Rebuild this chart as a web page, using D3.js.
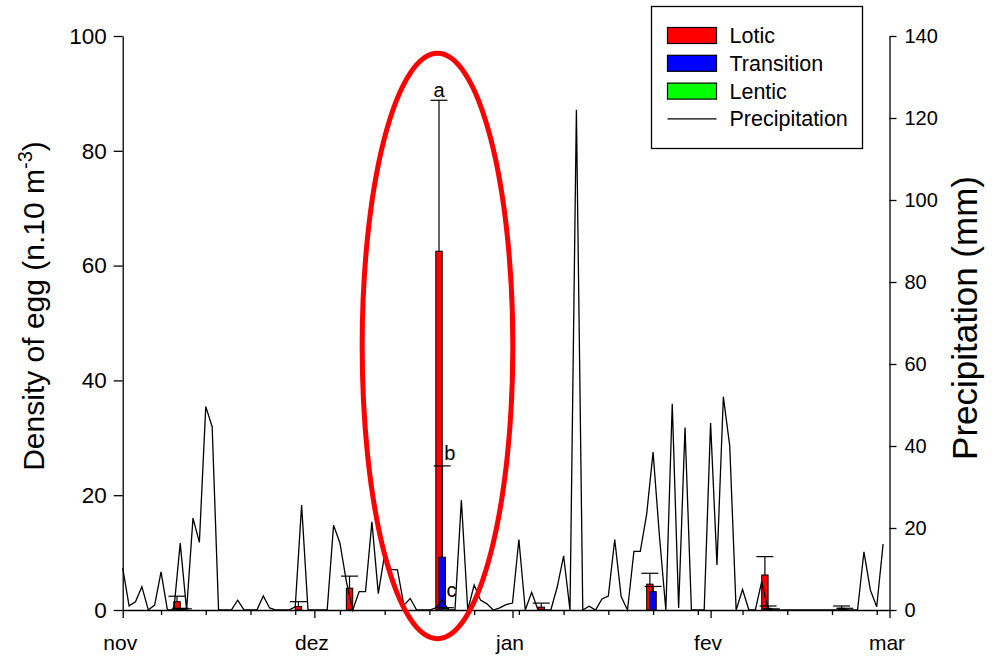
<!DOCTYPE html>
<html>
<head>
<meta charset="utf-8">
<script src="https://cdn.jsdelivr.net/npm/d3@7"></script>
<style>
body { margin: 0; background: #fff; }
svg { font-family: Arial, "Liberation Sans", sans-serif; }
</style>
</head>
<body>
<svg id="chart" width="1004" height="663"></svg>
<script>
// x range and month labels (Portuguese)
var startDay = "2010-11-01";
var endDay = "2011-03-01";
var monthLabels = ["nov", "dez", "jan", "fev", "mar"];

// daily precipitation (mm), one value per day from startDay
var precip = [
    10.2, 1, 2, 5.7, 0, 1.2, 9.3, 0, 0, 16.3,
    0, 22.4, 16.5, 49.6, 44.7, 0, 0, 0, 2.4, 0,
    0, 0, 3.4, 0.5, 0, 0, 0, 0.8, 25.6, 0,
    0, 0, 0, 20.7, 16.3, 7, 0, 4.5, 4.5, 21.5,
    4, 13.7, 9.9, 9.8, 1.2, 2.8, 0, 0, 0, 0.5,
    2.5, 0, 0, 26.8, 0, 6.1, 2.4, 1.5, 0, 0.5,
    1.3, 1.7, 17.2, 0, 4.3, 0, 0, 0, 5.6, 13.2,
    0, 122, 0, 0.9, 0, 2.7, 3.4, 17.2, 3.3, 0,
    14.3, 14.3, 23.4, 38.5, 18, 0, 50.3, 0.5, 44.5, 0,
    0, 0, 45.6, 11, 52, 40, 0, 5, 0, 0,
    6.9, 0, 0, 0, 0, 0, 0, 0, 0, 0,
    0, 0, 0, 0, 0, 0, 14.2, 4.9, 0.8, 16.1
];

// egg sampling dates and densities (n.10 m-3), with upper error
var sampleDates = ["2010-11-10", "2010-11-29", "2010-12-07", "2010-12-21",
                   "2011-01-06", "2011-01-23", "2011-02-10", "2011-02-22"];
var lotic          = [1.45, 0.6, 3.8, 62.5, 0.5, 4.5, 6.1, 0.3];
var loticErr       = [0.95, 0.85, 2.1, 26.3, 0.7, 1.9, 3.2, 0.4];
var transition     = [0.1, 0, 0, 9.2, 0, 3.2, 0.3, 0.1];
var transitionErr  = [0.2, 0, 0, 15.9, 0, 0.9, 0.4, 0.2];
var lentic         = [0.1, 0, 0, 0.25, 0, 0, 0.1, 0];
var lenticErr      = [0.1, 0, 0, 0.15, 0, 0, 0.1, 0];

// significance letters on the 4th sampling date
var letters = ["a", "b", "c"];
var letterIndex = 3;

var densityTicks = [0, 20, 40, 60, 80, 100];
var precipTicks = [0, 20, 40, 60, 80, 100, 120, 140];

var parse = d3.utcParse("%Y-%m-%d");
var svg = d3.select("#chart");
var W = 1004, H = 663;
var padding = {top: 36, right: 114.5, bottom: 53, left: 122.7};

var x = d3.scaleUtc()
    .domain([parse(startDay), parse(endDay)])
    .range([padding.left, W - padding.right]);
var yL = d3.scaleLinear().domain([0, 100]).range([H - padding.bottom, padding.top]);
var yR = d3.scaleLinear().domain([0, 140]).range([H - padding.bottom, padding.top]);

var series = [
    {name: "Lotic", values: lotic, err: loticErr, color: "#ff0000", shift: -12},
    {name: "Transition", values: transition, err: transitionErr, color: "#0000ff", shift: 0},
    {name: "Lentic", values: lentic, err: lenticErr, color: "#00ff00", shift: 12}
];

function center(d, s) {
    return x(d3.utcHour.offset(parse(d), s.shift));
}

// bars
series.forEach(function(s) {
    svg.append('g').selectAll('rect').data(sampleDates).enter()
        .append('rect')
        .attr('x', function(d) { return x(d3.utcHour.offset(parse(d), s.shift - 12)); })
        .attr('width', function(d) {
            return x(d3.utcHour.offset(parse(d), s.shift + 12)) - x(d3.utcHour.offset(parse(d), s.shift - 12));
        })
        .attr('y', function(d, i) { return yL(s.values[i]); })
        .attr('height', function(d, i) { return yL(0) - yL(s.values[i]); })
        .attr('fill', s.color)
        .attr('stroke', '#000')
        .attr('stroke-width', 1);
});

// error bars (upper only)
var capHalf = 8.5;
series.forEach(function(s) {
    var g = svg.append('g').attr('stroke', '#000').attr('stroke-width', 1.2);
    sampleDates.forEach(function(d, i) {
        if (!(s.err[i] > 0)) return;
        var cx = center(d, s);
        var top = yL(s.values[i] + s.err[i]);
        g.append('line').attr('x1', cx).attr('x2', cx)
            .attr('y1', yL(s.values[i])).attr('y2', top);
        g.append('line').attr('x1', cx - capHalf).attr('x2', cx + capHalf)
            .attr('y1', top).attr('y2', top);
    });
});

// precipitation line
var start = parse(startDay);
var line = d3.line()
    .x(function(d, i) { return x(d3.utcDay.offset(start, i)); })
    .y(function(d) { return yR(d); });
svg.append('path').datum(precip)
    .attr('d', line)
    .attr('fill', 'none')
    .attr('stroke', '#000')
    .attr('stroke-width', 1.3)
    .attr('stroke-linejoin', 'miter');

// letters
var ld = sampleDates[letterIndex];
svg.append('text')
    .attr('x', center(ld, series[0]))
    .attr('y', yL(lotic[letterIndex] + loticErr[letterIndex]) - 3)
    .attr('text-anchor', 'middle')
    .style('font-size', '20px')
    .text(letters[0]);
svg.append('text')
    .attr('x', center(ld, series[1]) + 2)
    .attr('y', yL(transition[letterIndex] + transitionErr[letterIndex]) - 6)
    .style('font-size', '20px')
    .text(letters[1]);
svg.append('text')
    .attr('x', center(ld, series[2]) + 1)
    .attr('y', yL(lentic[letterIndex] + lenticErr[letterIndex]) - 11)
    .style('font-size', '20px')
    .text(letters[2]);

// axes
var end = parse(endDay);
var monthTicks = d3.utcMonth.range(start, d3.utcDay.offset(end, 1));
var weekTicks = d3.utcSunday.range(start, end);

var xMinor = svg.append('g')
    .attr('transform', 'translate(0,' + yL(0) + ')')
    .call(d3.axisBottom(x).tickValues(weekTicks).tickSize(5).tickFormat(''));
xMinor.select('.domain').remove();

var xAxis = svg.append('g')
    .attr('transform', 'translate(0,' + yL(0) + ')')
    .call(d3.axisBottom(x).tickValues(monthTicks).tickSize(8).tickSizeOuter(0)
        .tickFormat(function(d, i) { return monthLabels[i]; }));
xAxis.selectAll('text').attr('y', 40).attr('dy', 0).attr('dx', -3)
    .style('font-size', '21px').attr('fill', '#000');

var yAxis = svg.append('g')
    .attr('transform', 'translate(' + padding.left + ',0)')
    .call(d3.axisLeft(yL).tickValues(densityTicks).tickSize(9).tickPadding(7).tickSizeOuter(0));
yAxis.selectAll('text').style('font-size', '22.5px').attr('fill', '#000');

var yAxisR = svg.append('g')
    .attr('transform', 'translate(' + (W - padding.right) + ',0)')
    .call(d3.axisRight(yR).tickValues(precipTicks).tickSize(7).tickPadding(8).tickSizeOuter(0));
yAxisR.selectAll('text').style('font-size', '20px').attr('fill', '#000');

svg.selectAll('.domain, .tick line').attr('stroke', '#000').attr('stroke-width', 1.3);

// axis titles
var leftTitle = svg.append('text')
    .attr('transform', 'translate(44,306) rotate(-90)')
    .attr('text-anchor', 'middle')
    .style('font-size', '30px');
leftTitle.append('tspan').text('Density of egg (n.10 m');
leftTitle.append('tspan').attr('dy', -12).style('font-size', '20px').text('-3');
leftTitle.append('tspan').attr('dy', 12).text(')');

svg.append('text')
    .attr('transform', 'translate(977,318) rotate(-90)')
    .attr('text-anchor', 'middle')
    .style('font-size', '35px')
    .text('Precipitation (mm)');

// legend
var legend = svg.append('g').attr('transform', 'translate(651.5,6.5)');
legend.append('rect').attr('width', 211).attr('height', 142)
    .attr('fill', '#fff').attr('stroke', '#000').attr('stroke-width', 1.3);
var legendItems = series.map(function(s) { return s.name; }).concat(['Precipitation']);
legendItems.forEach(function(name, i) {
    var cy = 29 + i * 27.8;
    if (i < series.length) {
        legend.append('rect').attr('x', 16).attr('y', cy - 8).attr('width', 49).attr('height', 16)
            .attr('fill', series[i].color).attr('stroke', '#000').attr('stroke-width', 1.2);
    } else {
        legend.append('line').attr('x1', 16).attr('x2', 65).attr('y1', cy).attr('y2', cy)
            .attr('stroke', '#000').attr('stroke-width', 1.3);
    }
    legend.append('text').attr('x', 78).attr('y', cy).attr('dy', '0.35em')
        .style('font-size', '21.5px').text(name);
});

// red highlight ellipse round the 21 Dec sample
var ex = center(ld, series[0]) - 1.5;
svg.append('ellipse')
    .attr('cx', ex)
    .attr('cy', yL(46))
    .attr('rx', x(d3.utcHour.offset(parse(ld), 283)) - x(parse(ld)))
    .attr('ry', yL(0) - yL(51))
    .attr('fill', 'none')
    .attr('stroke', '#ff0000')
    .attr('stroke-width', 5);
</script>
</body>
</html>
